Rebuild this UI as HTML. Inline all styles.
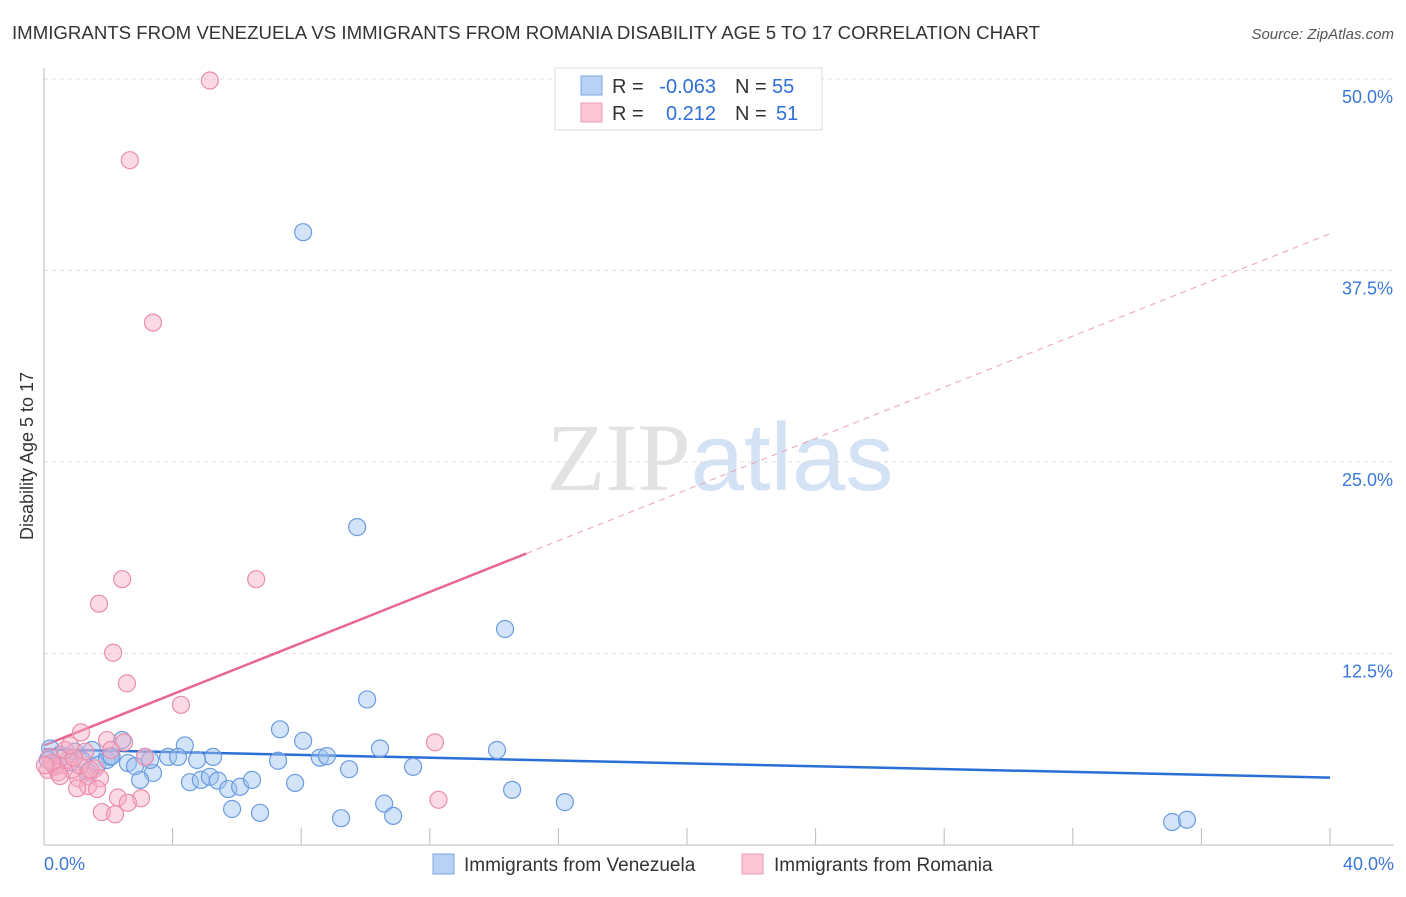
<!DOCTYPE html>
<html><head><meta charset="utf-8"><style>
body{margin:0;background:#fff;font-family:"Liberation Sans",sans-serif;}
</style></head><body>
<svg id="chart" width="1406" height="892" xmlns="http://www.w3.org/2000/svg" style="font-family:'Liberation Sans',sans-serif">
<text x="12" y="39" font-size="18" fill="#333" textLength="1028" lengthAdjust="spacingAndGlyphs">IMMIGRANTS FROM VENEZUELA VS IMMIGRANTS FROM ROMANIA DISABILITY AGE 5 TO 17 CORRELATION CHART</text>
<text x="1394" y="39" font-size="15" fill="#555" text-anchor="end" font-style="italic">Source: ZipAtlas.com</text>
<text x="720" y="490" font-size="96" text-anchor="middle" fill="#e2e2e2" font-family="Liberation Serif">ZIP<tspan fill="#d3e2f5" font-family="Liberation Sans">atlas</tspan></text>
<text transform="translate(33,456) rotate(-90)" font-size="18" fill="#333" text-anchor="middle">Disability Age 5 to 17</text>
<g id="grid"></g><g id="axes"></g><g id="lines"></g><g id="pts"></g>
<g>
<rect x="555" y="68" width="267" height="62" fill="#fff" stroke="#ddd"/>
<rect x="581" y="76" width="21" height="19" fill="#b8d2f5" stroke="#7aa6e0"/>
<rect x="581" y="103" width="21" height="19" fill="#fcc6d6" stroke="#eb9ab4"/>
<text x="612" y="93" font-size="20" fill="#333">R =</text>
<text x="716" y="93" font-size="20" fill="#2f6fd6" text-anchor="end">-0.063</text>
<text x="735" y="93" font-size="20" fill="#333">N =</text>
<text x="772" y="93" font-size="20" fill="#2f6fd6">55</text>
<text x="612" y="120" font-size="20" fill="#333">R =</text>
<text x="716" y="120" font-size="20" fill="#2f6fd6" text-anchor="end">0.212</text>
<text x="735" y="120" font-size="20" fill="#333">N =</text>
<text x="776" y="120" font-size="20" fill="#2f6fd6">51</text>
</g>
<g>
<rect x="433" y="854" width="21" height="20" fill="#b8d2f5" stroke="#7aa6e0"/>
<text x="464" y="871" font-size="19" fill="#333">Immigrants from Venezuela</text>
<rect x="742" y="854" width="21" height="20" fill="#fcc6d6" stroke="#eb9ab4"/>
<text x="774" y="871" font-size="19" fill="#333">Immigrants from Romania</text>
</g>
</svg>
<script>
const yTicks=[12.5,25,37.5,50];
const yTickLabels=["12.5%","25.0%","37.5%","50.0%"];
const xTickLabels=["0.0%","40.0%"];
const blueX=[8.06,9.74,14.34,10.05,7.34,8.06,10.45,14.09,4.38,5.26,2.43,1.49,2.05,2.61,3.14,3.86,4.17,4.76,7.28,8.58,8.8,3.39,2.99,4.54,4.88,5.16,5.41,5.73,6.1,6.47,7.81,9.49,11.48,14.56,10.58,16.2,5.85,6.72,9.24,10.86,35.09,35.55,0.19,0.5,0.96,1.18,1.65,1.96,0.34,0.81,2.83,2.1,3.3,0.12,1.37];
const blueY=[40.0,20.75,14.1,9.5,7.55,6.8,6.3,6.2,6.5,5.75,6.85,6.2,5.75,5.35,5.75,5.75,5.75,5.55,5.5,5.7,5.8,4.7,4.25,4.1,4.25,4.45,4.2,3.65,3.8,4.25,4.05,4.95,5.1,3.6,2.7,2.8,2.35,2.1,1.75,1.9,1.5,1.65,6.3,5.9,6.1,5.55,5.2,5.55,5.2,5.4,5.15,5.8,5.55,5.55,4.75];
const pinkX=[5.16,2.67,3.39,2.43,6.6,1.71,2.15,2.58,4.26,12.16,12.27,1.15,1.96,2.49,2.08,3.14,1.59,1.37,1.06,1.74,1.37,1.65,1.03,2.3,3.02,2.61,1.8,2.21,0.19,0.34,0.56,0.75,0.87,0.12,0.44,1.12,0.65,1.28,0.25,0.93,0.5,1.43,0.81,0.03];
const pinkY=[49.9,44.7,34.1,17.35,17.35,15.75,12.55,10.55,9.15,6.7,2.95,7.35,6.85,6.7,6.2,5.75,5.0,4.5,4.35,4.35,3.85,3.65,3.7,3.1,3.05,2.75,2.15,2.0,5.75,5.1,5.2,5.55,4.9,4.9,4.75,5.2,6.2,6.1,5.35,5.7,4.5,4.9,6.5,5.2];
const blueTrend=[6.25,4.4];
const pinkTrend=[6.5,39.9];
const pinkSolidEnd=15.0;
const NS="http://www.w3.org/2000/svg";
const X=v=>44+v*32.15, Y=v=>845-v*15.32;
function mk(t,a,p){const e=document.createElementNS(NS,t);for(const k in a)e.setAttribute(k,a[k]);p.appendChild(e);return e;}
const grid=document.getElementById('grid'),axes=document.getElementById('axes'),lines=document.getElementById('lines'),pts=document.getElementById('pts');
yTicks.forEach((t,i)=>{
 const l=mk('line',{x1:44,x2:1394,y1:Y(t),y2:Y(t),stroke:'#ddd','stroke-dasharray':'4,4'},grid);
 
 
 const tx=mk('text',{x:1393,y:Y(t)+24,'font-size':18,fill:'#3b78d8','text-anchor':'end'},grid);
 tx.textContent=yTickLabels[i];
 
 
});
const ya=mk('line',{x1:44,x2:44,y1:68,y2:845,stroke:'#bbb'},axes);


const xa=mk('line',{x1:44,x2:1394,y1:845,y2:845,stroke:'#bbb'},axes);


for(let i=0;i<=10;i++){const tk=mk('line',{x1:X(i*4),x2:X(i*4),y1:828,y2:845,stroke:'#bbb'},axes);
 
 }
[[0,44,'start'],[40,1394,'end']].forEach((d,i)=>{const t=mk('text',{x:d[1],y:870,'font-size':18,fill:'#3b78d8','text-anchor':d[2]},axes);t.textContent=xTickLabels[i];
 
 });
function dot(x,y,f,s,n){const c=mk('circle',{cx:X(x),cy:Y(y),r:8.5,fill:f,stroke:s,'stroke-width':1.2},pts);
 
 }
blueX.forEach((x,i)=>dot(x,blueY[i],'rgba(160,195,240,0.45)','#6b9be0','venezuela-point'));
pinkX.forEach((x,i)=>dot(x,pinkY[i],'rgba(247,172,197,0.45)','#ea8dab','romania-point'));
const bt=mk('line',{x1:X(0),y1:Y(blueTrend[0]),x2:X(40),y2:Y(blueTrend[1]),stroke:'#2a6fd6','stroke-width':2.5},lines);


const pe=pinkTrend[0]+(pinkTrend[1]-pinkTrend[0])*pinkSolidEnd/40;
const ps=mk('line',{x1:X(0),y1:Y(pinkTrend[0]),x2:X(pinkSolidEnd),y2:Y(pe),stroke:'#e8668f','stroke-width':2.5},lines);


const pd=mk('line',{x1:X(pinkSolidEnd),y1:Y(pe),x2:X(40),y2:Y(pinkTrend[1]),stroke:'#eda0b8','stroke-width':1,'stroke-dasharray':'6,5'},lines);


</script>
</body></html>
